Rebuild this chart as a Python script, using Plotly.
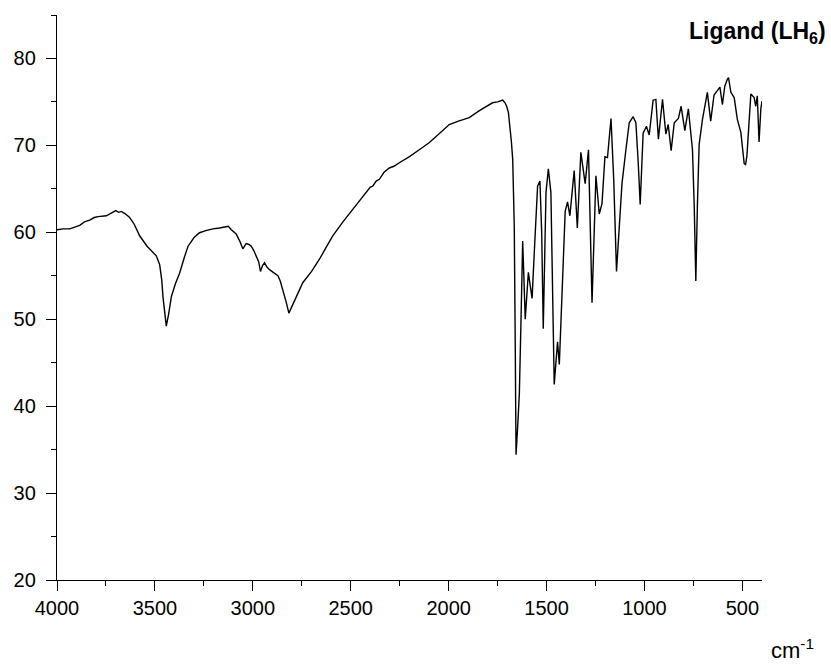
import plotly.graph_objects as go

# FT-IR spectrum of the free ligand (LH6): wavenumber (cm^-1) vs transmittance (%)
wavenumber = [
    4000, 3968, 3935, 3910, 3884, 3860, 3833, 3810, 3790, 3748, 3725, 3700, 3685,
    3671, 3650, 3629, 3605, 3578, 3540, 3493, 3476, 3465, 3459, 3450, 3442, 3430,
    3416, 3395, 3374, 3350, 3331, 3300, 3272, 3240, 3204, 3170, 3144, 3125, 3110,
    3085, 3065, 3051, 3040, 3034, 3020, 3008, 2995, 2983, 2970, 2961, 2950, 2940,
    2928, 2915, 2895, 2872, 2860, 2847, 2830, 2816, 2780, 2745, 2700, 2660, 2625,
    2592, 2540, 2490, 2440, 2400, 2388, 2370, 2354, 2330, 2303, 2280, 2252, 2200,
    2150, 2100, 2050, 1997, 1950, 1895, 1843, 1800, 1776, 1750, 1724, 1712, 1704,
    1695, 1687, 1680, 1673, 1665, 1660, 1656, 1648, 1639, 1630, 1622, 1609, 1600,
    1593, 1585, 1574, 1563, 1546, 1534, 1525, 1517, 1510, 1503, 1491, 1478, 1461,
    1452, 1444, 1435, 1426, 1418, 1405, 1393, 1381, 1370, 1359, 1343, 1325, 1303,
    1286, 1268, 1258, 1248, 1231, 1217, 1202, 1189, 1171, 1157, 1143, 1130, 1115,
    1095, 1078, 1058, 1044, 1032, 1022, 1007, 990, 976, 956, 942, 929, 908, 891,
    879, 864, 848, 827, 813, 794, 776, 755, 746, 738, 730, 721, 704, 679, 662,
    645, 628, 615, 602, 590, 577, 571, 559, 542, 526, 508, 491, 484, 477, 457,
    440, 432, 424, 415, 406, 400,
]
transmittance = [
    60.3, 60.4, 60.4, 60.6, 60.8, 61.2, 61.4, 61.7, 61.8, 61.9, 62.2, 62.5, 62.3,
    62.4, 62.1, 61.7, 60.9, 59.6, 58.4, 57.3, 56.3, 54.5, 52.6, 50.5, 49.2, 50.6,
    52.6, 54.1, 55.3, 57.1, 58.4, 59.4, 59.95, 60.2, 60.4, 60.5, 60.6, 60.7, 60.3,
    59.8, 58.9, 58.1, 58.5, 58.7, 58.6, 58.4, 57.9, 57.3, 56.6, 55.5, 56.2, 56.5,
    56.0, 55.7, 55.4, 55.0, 54.4, 53.4, 52.0, 50.7, 52.5, 54.2, 55.5, 56.9, 58.3,
    59.6, 61.2, 62.6, 64.1, 65.2, 65.3, 65.9, 66.1, 66.9, 67.4, 67.6, 68.0, 68.7,
    69.5, 70.3, 71.3, 72.4, 72.8, 73.2, 74.0, 74.6, 74.9, 75.0, 75.2, 74.9, 74.5,
    73.8, 72.4, 70.5, 68.4, 60.7, 47.0, 34.4, 37.5, 41.5, 50.5, 59.0, 50.0, 53.5,
    55.4, 54.1, 52.4, 57.6, 65.3, 65.9, 60.0, 48.9, 57.0, 64.6, 67.3, 64.6, 42.5,
    45.0, 47.4, 44.8, 50.0, 55.3, 62.4, 63.5, 61.9, 64.5, 67.1, 60.5, 69.2, 65.6,
    69.5, 51.9, 59.5, 66.5, 62.1, 63.3, 68.7, 68.6, 73.1, 66.0, 55.5, 60.5, 65.6,
    69.5, 72.6, 73.3, 72.6, 68.0, 63.2, 71.4, 72.2, 71.2, 75.2, 75.3, 70.7, 75.3,
    71.3, 72.4, 69.4, 72.6, 73.1, 74.5, 71.7, 74.2, 69.5, 63.0, 54.4, 63.0, 70.1,
    73.0, 76.1, 72.8, 75.8, 76.3, 76.7, 74.7, 76.8, 77.6, 77.8, 76.1, 75.5, 73.0,
    71.5, 67.9, 67.8, 68.8, 75.9, 75.5, 74.5, 75.7, 70.4, 74.2, 75.1,
]

tick_vals_x = [4000, 3500, 3000, 2500, 2000, 1500, 1000, 500]
tick_vals_y = [20, 30, 40, 50, 60, 70, 80]

fig = go.Figure(
    go.Scatter(
        x=wavenumber,
        y=transmittance,
        mode="lines",
        line=dict(color="black", width=1.4),
        showlegend=False,
    )
)

axis_font = dict(family="Liberation Sans, Arial, sans-serif", size=20, color="black")

fig.update_xaxes(
    range=[4000, 400],
    tickvals=tick_vals_x,
    ticks="outside",
    ticklen=10,
    tickwidth=1.3,
    tickcolor="black",
    minor=dict(dtick=250, tick0=0, ticks="outside", ticklen=5, tickwidth=1.3, tickcolor="black"),
    showline=True,
    linecolor="black",
    linewidth=1.3,
    showgrid=False,
    zeroline=False,
    tickfont=axis_font,
)
fig.update_yaxes(
    range=[20, 85],
    tickvals=tick_vals_y,
    ticks="outside",
    ticklen=10,
    tickwidth=1.3,
    tickcolor="black",
    minor=dict(dtick=5, tick0=0, ticks="outside", ticklen=5, tickwidth=1.3, tickcolor="black"),
    showline=True,
    linecolor="black",
    linewidth=1.3,
    showgrid=False,
    zeroline=False,
    tickfont=axis_font,
    ticklabelstandoff=6,
)

fig.add_annotation(
    text="<b>Ligand (LH<sub>6</sub>)</b>",
    xref="paper", yref="paper",
    x=1.0, y=1.0,
    xanchor="right", yanchor="middle",
    xshift=66, yshift=-17,
    showarrow=False,
    font=dict(family="Liberation Sans, Arial, sans-serif", size=23, color="black"),
)
fig.add_annotation(
    text="cm<sup>-1</sup>",
    xref="paper", yref="paper",
    x=1.0, y=0.0,
    xanchor="right", yanchor="middle",
    xshift=54, yshift=-69,
    showarrow=False,
    font=dict(family="Liberation Sans, Arial, sans-serif", size=22, color="black"),
)

fig.update_layout(
    width=831,
    height=667,
    margin=dict(l=57, r=69, t=15, b=87),
    paper_bgcolor="white",
    plot_bgcolor="white",
)

fig.write_html("out.html")
